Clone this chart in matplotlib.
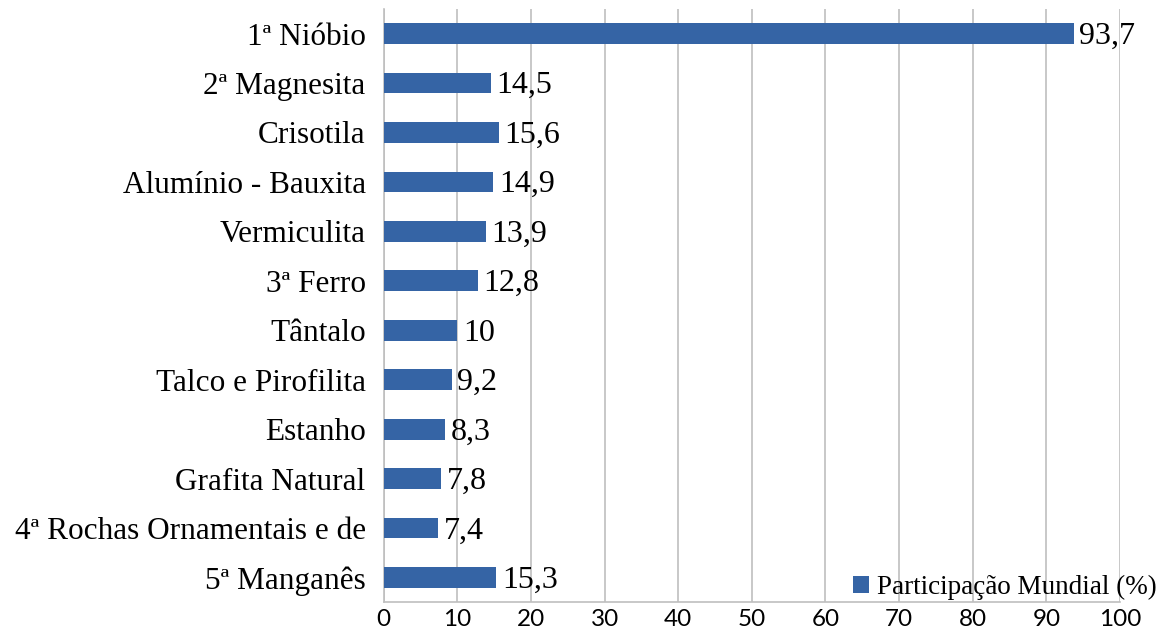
import matplotlib
matplotlib.use('Agg')
import matplotlib.pyplot as plt
import numpy as np

categories = ['1ª Nióbio', '2ª Magnesita', 'Crisotila', 'Alumínio - Bauxita',
              'Vermiculita', '3ª Ferro', 'Tântalo', 'Talco e Pirofilita',
              'Estanho', 'Grafita Natural', '4ª Rochas Ornamentais e de',
              '5ª Manganês']
values = [93.7, 14.5, 15.6, 14.9, 13.9, 12.8, 10, 9.2, 8.3, 7.8, 7.4, 15.3]
value_labels = ['93,7', '14,5', '15,6', '14,9', '13,9', '12,8', '10', '9,2',
                '8,3', '7,8', '7,4', '15,3']

serif = 'Liberation Serif'
color = '#3564a5'

fig = plt.figure(figsize=(11.63, 6.3), dpi=100, facecolor='white')
ax = fig.add_axes([0.330, 0.044, 0.633, 0.942])

y = np.arange(len(categories))
ax.barh(y, values, height=0.42, color=color,
        label='Participação Mundial (%)', zorder=3)
for yi, v, lab in zip(y, values, value_labels):
    ax.annotate(lab, (v, yi), xytext=(4, -2), textcoords='offset points',
                va='center', ha='left', fontsize=23, family=serif, zorder=4)

ax.set_ylim(len(categories) - 0.5, -0.5)
ax.set_xlim(0, 100)
ax.set_yticks(y)
ax.set_yticklabels(categories, fontsize=22.5, family=serif)
ax.set_xticks(np.arange(0, 101, 10))
ax.tick_params(axis='x', labelsize=17.5, length=0, pad=5)
ax.tick_params(axis='y', length=0, pad=13)
for lab in ax.get_xticklabels():
    lab.set_family('Lato')

ax.grid(axis='x', color='#bfbfbf', linewidth=1.2, zorder=0)
for s in ['top', 'right']:
    ax.spines[s].set_visible(False)
for s in ['left', 'bottom']:
    ax.spines[s].set_color('#bfbfbf')
    ax.spines[s].set_linewidth(1.2)

fig.legend(loc='center right', frameon=False, prop={'family': serif, 'size': 19.5},
           handlelength=0.6, handleheight=0.6, handletextpad=0.3,
           borderaxespad=0.0, borderpad=0.0, bbox_to_anchor=(0.995, 0.067))

fig.savefig('out.png', dpi=100, facecolor='white')
